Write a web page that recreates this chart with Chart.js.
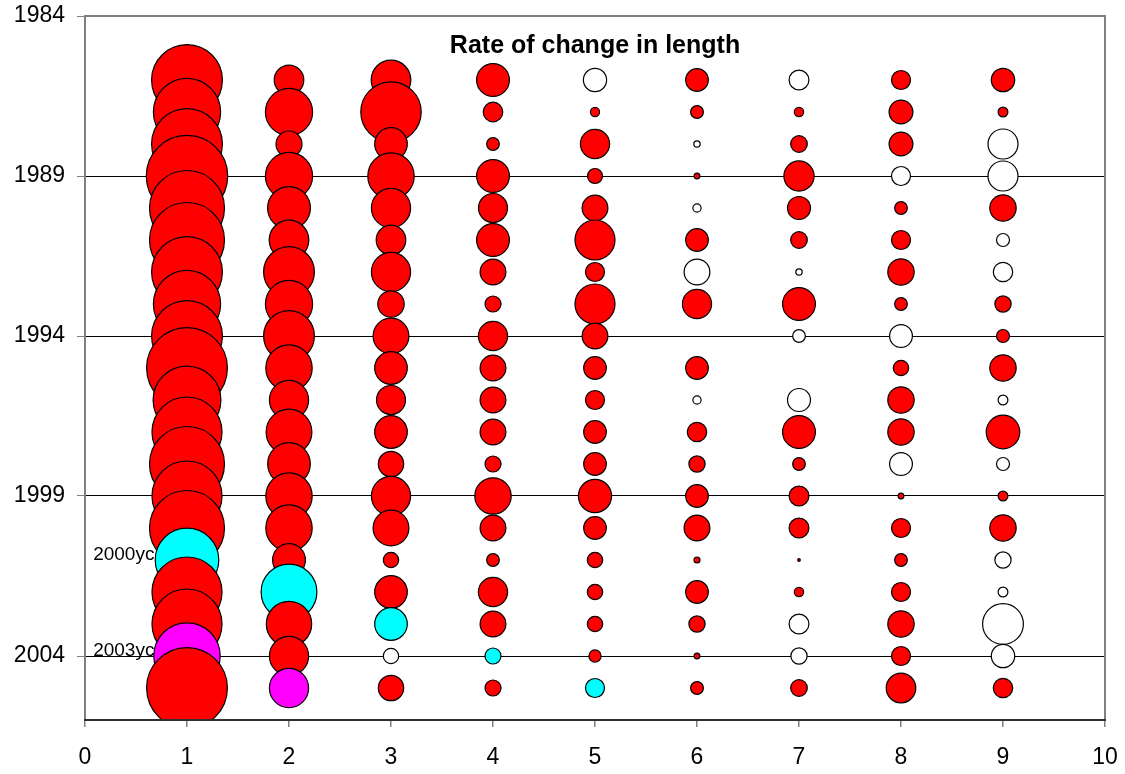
<!DOCTYPE html>
<html>
<head>
<meta charset="utf-8">
<title>Rate of change in length</title>
<script src="https://cdn.jsdelivr.net/npm/chart.js@4.4.0/dist/chart.umd.min.js"></script>
<style>
  html, body { margin: 0; padding: 0; background: #ffffff; }
  canvas { display: block; }
</style>
</head>
<body>
<canvas id="chart" width="1125" height="774"></canvas>
<script>
// Survey years (rows) and ages (columns)
const years = [1986, 1987, 1988, 1989, 1990, 1991, 1992, 1993, 1994, 1995,
               1996, 1997, 1998, 1999, 2000, 2001, 2002, 2003, 2004, 2005];
const ages = [1, 2, 3, 4, 5, 6, 7, 8, 9];

// Rate of change in length by age; negative values are drawn as open bubbles,
// null means no value for that year
const rateAge1 = [12.53, 11.29, 12.53, 16.56, 14.06, 14.06, 12.53, 11.29, 12.53, 16.32,
                  11.49, 12.25, 14.06, 12.25, 14.06, 10.11, 12.25, 12.25, 11.02, 16.32];
const rateAge2 = [2.19, 5.57, 1.69, 5.57, 4.58, 3.92, 6.45, 5.57, 6.45, 5.38,
                  3.84, 5.24, 4.54, 5.38, 5.38, 2.69, 7.78, 5.15, 3.84, 3.84];
const rateAge3 = [3.92, 9.12, 2.66, 5.38, 3.84, 2.19, 3.84, 1.74, 3.20, 2.66,
                  2.10, 2.66, 1.61, 3.84, 3.20, 0.59, 2.66, 2.66, -0.59, 1.61];
const rateAge4 = [2.69, 0.96, 0.40, 2.69, 2.10, 2.69, 1.66, 0.64, 2.13, 1.66,
                  1.66, 1.66, 0.64, 3.31, 1.66, 0.40, 2.13, 1.66, 0.64, 0.64];
const rateAge5 = [-1.35, 0.21, 2.13, 0.56, 1.66, 4.00, 0.90, 4.00, 1.66, 1.28,
                  0.90, 1.28, 1.28, 2.76, 1.28, 0.59, 0.59, 0.59, 0.37, 0.90];
const rateAge6 = [1.28, 0.41, -0.10, 0.084, -0.17, 1.28, -1.66, 2.13, null, 1.28,
                  -0.17, 0.94, 0.66, 1.28, 1.66, 0.09, 1.28, 0.66, 0.084, 0.41];
const rateAge7 = [-0.98, 0.22, 0.69, 2.28, 1.32, 0.69, -0.10, 2.69, -0.40, null,
                  -1.32, 2.69, 0.40, 0.98, 0.98, 0.017, 0.22, -0.98, -0.66, 0.69];
const rateAge8 = [0.90, 1.42, 1.42, -0.90, 0.40, 0.90, 1.74, 0.40, -1.30, 0.59,
                  1.74, 1.74, -1.30, 0.084, 0.90, 0.40, 0.90, 1.74, 0.90, 2.19];
const rateAge9 = [1.37, 0.24, -2.25, -2.25, 1.74, -0.42, -0.94, 0.66, 0.42, 1.74,
                  -0.24, 2.82, -0.42, 0.24, 1.74, -0.66, -0.24, -4.16, -1.37, 0.94];

// Axis tick labels
const yTickValues = [1984, 1989, 1994, 1999, 2004];
const xTickValues = [0, 1, 2, 3, 4, 5, 6, 7, 8, 9, 10];

// Year classes followed through the ages
const trackedYearClasses = [2000, 2003];
const trackedLabels = ['2000yc', '2003yc'];

const chartTitle = 'Rate of change in length';

const rates = [rateAge1, rateAge2, rateAge3, rateAge4, rateAge5,
               rateAge6, rateAge7, rateAge8, rateAge9];

// Bubble area is proportional to the magnitude of the rate
const SIZE_SCALE = 10;
const COLORS = {
  positive: '#FF0000',
  negative: '#FFFFFF',
  tracked: ['#00FFFF', '#FF00FF']
};
const FONT = '"Liberation Sans", Arial, Helvetica, sans-serif';

function fillFor(age, year, v) {
  const k = trackedYearClasses.indexOf(year - age);
  if (k >= 0) return COLORS.tracked[k];
  return v < 0 ? COLORS.negative : COLORS.positive;
}

const datasets = ages.map((age, i) => {
  const points = [];
  const fills = [];
  years.forEach((yr, j) => {
    const v = rates[i][j];
    if (v === null || v === undefined) return;
    points.push({ x: age, y: yr, r: SIZE_SCALE * Math.sqrt(Math.abs(v)) });
    fills.push(fillFor(age, yr, v));
  });
  return {
    label: 'Age ' + age,
    data: points,
    backgroundColor: fills,
    borderColor: '#000000',
    borderWidth: 1.2,
    hoverRadius: 0
  };
});

// Year-class labels sit under the bubbles, left of the age-1 column
const yearClassLabels = {
  id: 'yearClassLabels',
  beforeDatasetsDraw(chart) {
    const { ctx, scales: { x, y } } = chart;
    ctx.save();
    ctx.font = '19px ' + FONT;
    ctx.fillStyle = '#000000';
    ctx.textAlign = 'left';
    ctx.textBaseline = 'alphabetic';
    trackedYearClasses.forEach((yc, k) => {
      const px = x.getPixelForValue(0.08);
      const py = y.getPixelForValue(yc + ages[0]);
      ctx.fillText(trackedLabels[k], px, py);
    });
    ctx.restore();
  }
};

// Plot frame and the title inside the plot area
const frameAndTitle = {
  id: 'frameAndTitle',
  afterDatasetsDraw(chart) {
    const { ctx, chartArea: a } = chart;
    ctx.save();
    ctx.font = 'bold 25px ' + FONT;
    ctx.fillStyle = '#000000';
    ctx.textAlign = 'center';
    ctx.textBaseline = 'alphabetic';
    ctx.fillText(chartTitle, (a.left + a.right) / 2, a.top + 37);

    ctx.lineWidth = 2;
    ctx.strokeStyle = '#808080';
    ctx.beginPath();
    ctx.moveTo(a.left, a.bottom);
    ctx.lineTo(a.left, a.top);
    ctx.lineTo(a.right, a.top);
    ctx.lineTo(a.right, a.bottom);
    ctx.stroke();
    ctx.strokeStyle = '#303030';
    ctx.beginPath();
    ctx.moveTo(a.left - 1, a.bottom);
    ctx.lineTo(a.right + 1, a.bottom);
    ctx.stroke();
    ctx.restore();
  }
};

new Chart(document.getElementById('chart'), {
  type: 'bubble',
  data: { datasets },
  options: {
    responsive: false,
    animation: false,
    devicePixelRatio: 1,
    events: [],
    layout: { autoPadding: false, padding: { top: 16, right: 20, left: 0, bottom: 0 } },
    plugins: {
      legend: { display: false },
      tooltip: { enabled: false },
      title: { display: false }
    },
    scales: {
      x: {
        type: 'linear',
        min: xTickValues[0],
        max: xTickValues[xTickValues.length - 1],
        afterBuildTicks: s => { s.ticks = xTickValues.map(v => ({ value: v })); },
        ticks: {
          font: { family: FONT, size: 23 }, color: '#000000', padding: 17,
          maxRotation: 0, autoSkip: false, callback: v => String(v)
        },
        grid: { drawOnChartArea: false, tickLength: 7, tickColor: '#808080', lineWidth: 1.5 },
        border: { display: false },
        afterFit: s => { s.height = 54; s.paddingLeft = 0; s.paddingRight = 0; }
      },
      y: {
        type: 'linear',
        reverse: true,
        min: 1984,
        max: 2006,
        afterBuildTicks: s => { s.ticks = yTickValues.map(v => ({ value: v })); },
        ticks: {
          font: { family: FONT, size: 23 }, color: '#000000', padding: 12,
          autoSkip: false, callback: v => String(v)
        },
        grid: {
          color: ctx => (ctx.tick && ctx.tick.value === yTickValues[0]) ? 'rgba(0,0,0,0)' : '#000000',
          tickColor: '#808080',
          tickLength: 8,
          lineWidth: 1
        },
        border: { display: false },
        afterFit: s => { s.width = 85; s.paddingTop = 0; s.paddingBottom = 0; }
      }
    }
  },
  plugins: [yearClassLabels, frameAndTitle]
});
</script>
</body>
</html>
